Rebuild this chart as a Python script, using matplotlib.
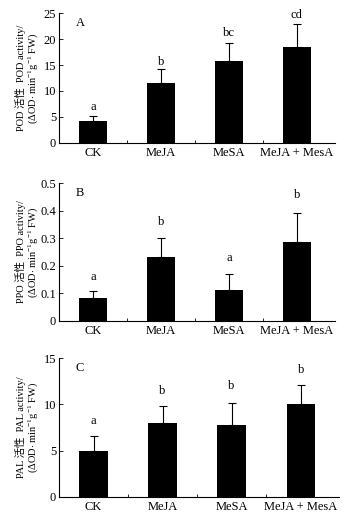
import numpy as np
import matplotlib
matplotlib.use('Agg')
import matplotlib.pyplot as plt

plt.rcParams['font.family'] = ['Liberation Serif', 'Noto Sans CJK SC']
plt.rcParams['mathtext.fontset'] = 'custom'
plt.rcParams['mathtext.rm'] = 'Liberation Serif'
plt.rcParams['mathtext.it'] = 'Liberation Serif:italic'

CATEGORIES = ['CK', 'MeJA', 'MeSA', 'MeJA + MesA']

POD_MEAN = [4.25, 11.5, 15.7, 18.4]
POD_ERR = [0.95, 2.7, 3.6, 4.5]
POD_LET = ['a', 'b', 'bc', 'cd']

PPO_MEAN = [0.084, 0.23, 0.112, 0.286]
PPO_ERR = [0.024, 0.07, 0.059, 0.107]
PPO_LET = ['a', 'b', 'a', 'b']

PAL_MEAN = [4.9, 7.95, 7.8, 10.1]
PAL_ERR = [1.7, 1.9, 2.4, 2.0]
PAL_LET = ['a', 'b', 'b', 'b']

PANELS = [
    dict(tag='A', name='POD', mean=POD_MEAN, err=POD_ERR, let=POD_LET,
         ylim=25, yticks=[0, 5, 10, 15, 20, 25],
         let_y=[6.84, 15.5, 21.1, 24.7]),
    dict(tag='B', name='PPO', mean=PPO_MEAN, err=PPO_ERR, let=PPO_LET,
         ylim=0.5, yticks=[0, 0.1, 0.2, 0.3, 0.4, 0.5],
         let_y=[0.158, 0.358, 0.227, 0.457]),
    dict(tag='C', name='PAL', mean=PAL_MEAN, err=PAL_ERR, let=PAL_LET,
         ylim=15, yticks=[0, 5, 10, 15],
         let_y=[8.2, 11.5, 12.0, 13.73]),
]

# axes boxes in figure fractions: left, bottom, width, height
BOXES = [
    (0.1715, 0.7282, 0.802, 0.2465),
    (0.1715, 0.3891, 0.802, 0.2618),
    (0.1715, 0.0539, 0.815, 0.2636),
]

fig = plt.figure(figsize=(3.44, 5.25), dpi=100)
x = np.arange(len(CATEGORIES))

for p, box in zip(PANELS, BOXES):
    ax = fig.add_axes(box)
    ax.bar(x, p['mean'], width=0.41, color='black', zorder=2)
    ax.errorbar(x, p['mean'], yerr=[np.zeros(4), p['err']], fmt='none',
                ecolor='black', elinewidth=0.8, capsize=3, capthick=0.8,
                zorder=1)
    for xi, yl, s in zip(x, p['let_y'], p['let']):
        ax.text(xi, yl, s, ha='center', va='center', fontsize=9)
    ax.set_xlim(-0.5, 3.56)
    ax.set_ylim(0, p['ylim'])
    ax.set_yticks(p['yticks'])
    ax.set_yticklabels(['{:g}'.format(v) for v in p['yticks']])
    ax.set_xticks(x)
    ax.set_xticklabels(CATEGORIES)
    ax.set_xticks([0.5, 1.5, 2.5], minor=True)
    ax.tick_params(axis='x', which='major', length=0, labelsize=9, pad=3)
    ax.tick_params(axis='x', which='minor', direction='in', length=2.5, width=0.6)
    ax.tick_params(axis='y', direction='in', length=3, width=0.6,
                   labelsize=9, pad=2)
    for s in ('top', 'right'):
        ax.spines[s].set_visible(False)
    for s in ('left', 'bottom'):
        ax.spines[s].set_linewidth(0.8)
    ax.text(0.06, 0.975, p['tag'], transform=ax.transAxes, fontsize=9,
            ha='left', va='top')
    cy = box[1] + box[3] / 2
    fig.text(0.06, cy, p['name'] + ' 活性  ' + p['name'] + ' activity/',
             rotation=90, ha='center', va='center', fontsize=7.5)
    fig.text(0.097, cy, r'($\Delta$OD$\cdot$ min$^{-1}$g$^{-1}$ FW)',
             rotation=90, ha='center', va='center', fontsize=7.5)

fig.savefig('out.png', dpi=100)
